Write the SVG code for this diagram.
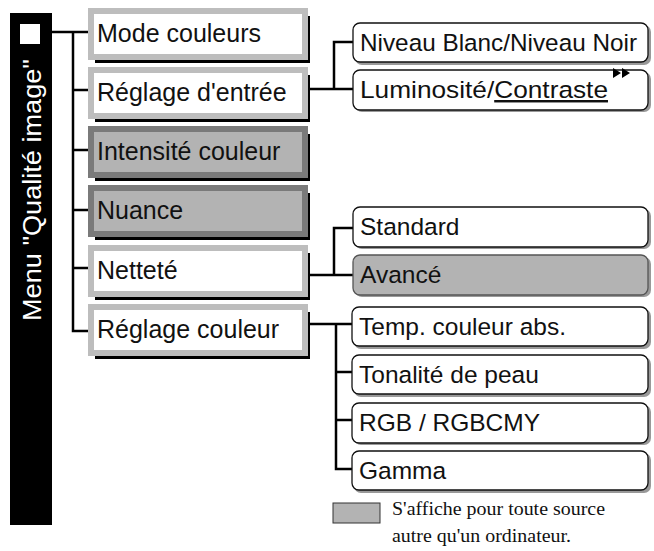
<svg xmlns="http://www.w3.org/2000/svg" width="654" height="551" viewBox="0 0 654 551">
<style>
.t{font-family:"Liberation Sans",Arial,sans-serif;font-size:25px;fill:#111}
.u{font-family:"Liberation Sans",Arial,sans-serif;font-size:24.5px;fill:#111}
.sh{fill:#000}
.fw{fill:#fff;stroke:#bdbdbd;stroke-width:6}
.fg{fill:#b3b3b3;stroke:#7a7a7a;stroke-width:6}
.sub{fill:#fff;stroke:#111;stroke-width:1.3}
.subg{fill:#b3b3b3;stroke:#555;stroke-width:1.3}
.ss{fill:#999}
.c{fill:none;stroke:#000;stroke-width:2.5}
.lg{font-family:"Liberation Serif","Times New Roman",serif;font-size:19px;fill:#111}
</style>
<rect x="10" y="13" width="42" height="512" fill="#000"/>
<rect x="20" y="24" width="20" height="20" fill="#fff"/>
<text transform="translate(41,321) rotate(-90)" textLength="262" lengthAdjust="spacingAndGlyphs" style="font-family:'Liberation Sans',Arial,sans-serif;font-size:26px;fill:#fff">Menu "Qualité image"</text>
<g id="connectors">
<path class="c" d="M52 32H88M73 32V331H88M73 90H88M73 150H88M73 210H88M73 268H88"/>
<path class="c" d="M307 89H353M334 89V42H353"/>
<path class="c" d="M307 275H353M334 275V228H353"/>
<path class="c" d="M307 324H352M336 324V469H352M336 372H352M336 420H352"/>
</g>
<g id="n1"><rect class="sh" x="95" y="16" width="215" height="47"/><rect class="fw" x="91" y="11" width="214" height="46"/><text class="t" x="97" y="42">Mode couleurs</text></g>
<g id="n2"><rect class="sh" x="95" y="75" width="215" height="47"/><rect class="fw" x="91" y="70" width="214" height="46"/><text class="t" x="97" y="101">Réglage d'entrée</text></g>
<g id="n3"><rect class="sh" x="95" y="134" width="215" height="47"/><rect class="fg" x="91" y="129" width="214" height="46"/><text class="t" x="97" y="160">Intensité couleur</text></g>
<g id="n4"><rect class="sh" x="95" y="193" width="215" height="47"/><rect class="fg" x="91" y="188" width="214" height="46"/><text class="t" x="97" y="219">Nuance</text></g>
<g id="n5"><rect class="sh" x="95" y="253" width="215" height="47"/><rect class="fw" x="91" y="248" width="214" height="46"/><text class="t" x="97" y="279">Netteté</text></g>
<g id="n6"><rect class="sh" x="95" y="312" width="215" height="47"/><rect class="fw" x="91" y="307" width="214" height="46"/><text class="t" x="97" y="338">Réglage couleur</text></g>
<g id="s1"><rect class="ss" x="355" y="25" width="296" height="40" rx="7"/><rect class="sub" x="353" y="23" width="295" height="39" rx="7"/><text class="u" x="360" y="51" textLength="277" lengthAdjust="spacingAndGlyphs">Niveau Blanc/Niveau Noir</text></g>
<g id="s2"><rect class="ss" x="355" y="72" width="296" height="40" rx="7"/><rect class="sub" x="353" y="70" width="295" height="40" rx="7"/><text class="u" x="360" y="98" textLength="248" lengthAdjust="spacingAndGlyphs">Luminosité/<tspan text-decoration="underline">Contraste</tspan></text><path d="M613 68L621 73L613 78ZM622 68L630 73L622 78Z" fill="#000"/></g>
<g id="s3"><rect class="ss" x="355" y="209" width="296" height="40" rx="7"/><rect class="sub" x="353" y="207" width="295" height="40" rx="7"/><text class="u" x="360" y="235">Standard</text></g>
<g id="s4"><rect class="ss" x="355" y="257" width="296" height="40" rx="7"/><rect class="subg" x="353" y="255" width="295" height="40" rx="7"/><text class="u" x="360" y="283">Avancé</text></g>
<g id="s5"><rect class="ss" x="354" y="309" width="297" height="40" rx="7"/><rect class="sub" x="352" y="307" width="296" height="39" rx="7"/><text class="u" x="359" y="335">Temp. couleur abs.</text></g>
<g id="s6"><rect class="ss" x="354" y="357" width="297" height="40" rx="7"/><rect class="sub" x="352" y="355" width="296" height="39" rx="7"/><text class="u" x="359" y="383">Tonalité de peau</text></g>
<g id="s7"><rect class="ss" x="354" y="405" width="297" height="40" rx="7"/><rect class="sub" x="352" y="403" width="296" height="40" rx="7"/><text class="u" x="359" y="431">RGB / RGBCMY</text></g>
<g id="s8"><rect class="ss" x="354" y="453" width="297" height="40" rx="7"/><rect class="sub" x="352" y="451" width="296" height="39" rx="7"/><text class="u" x="359" y="479">Gamma</text></g>
<g id="legend"><rect x="333" y="503" width="47" height="20" fill="#b3b3b3" stroke="#333" stroke-width="1"/>
<text class="lg" x="392" y="515" textLength="213" lengthAdjust="spacingAndGlyphs">S'affiche pour toute source</text>
<text class="lg" x="392" y="542" textLength="179" lengthAdjust="spacingAndGlyphs">autre qu'un ordinateur.</text></g>
</svg>
